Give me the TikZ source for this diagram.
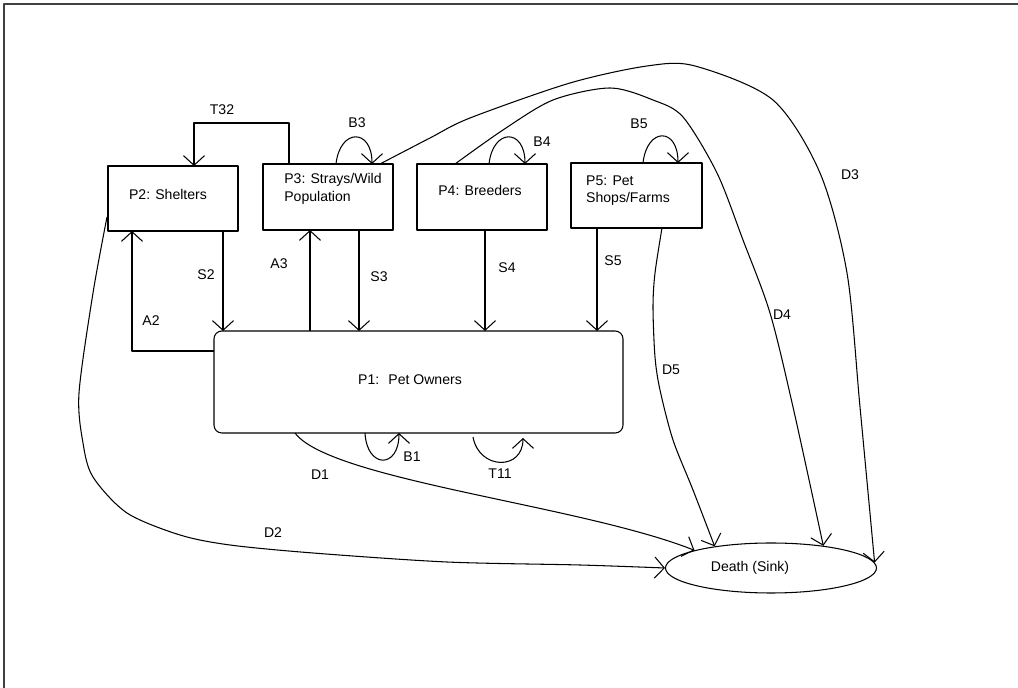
\documentclass[tikz,border=0pt]{standalone}
\usepackage{fontspec}
\setmainfont{Liberation Sans}
\usetikzlibrary{arrows.meta,calc,shapes.geometric}
\definecolor{framecol}{RGB}{64,64,64}
\def\pxu{0.02cm}
\begin{document}
\begin{tikzpicture}[x=0.02cm,y=-0.02cm,
  every node/.style={font=\fontsize{8}{10}\selectfont, text=black},
  box/.style={draw, line width=0.6pt, anchor=north west, inner sep=0pt, outer sep=0pt},
  arr/.style={draw, line width=0.6pt, -{Straight Barb[length=5.5pt,width=12pt]}},
  lbl/.style={inner sep=0pt},
  line join=round]

\useasboundingbox (0,0) rectangle (1018,688);
\draw[framecol, line width=1.2pt] (4,688) -- (4,4) -- (1018,4);

% nodes
\node[box, minimum width=130*\pxu, minimum height=65*\pxu,
  label={[lbl,shift={(-5,-4.5)}]center:{P2: Shelters}}] (P2) at (108,166) {};
\node[box, minimum width=130*\pxu, minimum height=66*\pxu,
  label={[lbl,align=left,shift={(5,-8)}]center:{P3: Strays/Wild\\Population}}] (P3) at (263,164) {};
\node[box, minimum width=130*\pxu, minimum height=66*\pxu,
  label={[lbl,shift={(-2,-7)}]center:{P4: Breeders}}] (P4) at (417,164) {};
\node[box, minimum width=131*\pxu, minimum height=65*\pxu,
  label={[lbl,align=left,shift={(-8.5,-5)}]center:{P5: Pet\\Shops/Farms}}] (P5) at (571,163) {};
\node[box, rounded corners=4.5pt, minimum width=409*\pxu, minimum height=102*\pxu,
  label={[lbl,shift={(-8.5,-2)}]center:{P1:~ Pet Owners}}] (P1) at (214,331) {};
\node[ellipse, draw, line width=0.6pt, inner sep=0pt, minimum width=211*\pxu, minimum height=50*\pxu,
  label={[lbl,shift={(-21,0)}]center:{Death (Sink)}}] (Death) at (771,568) {};

% transfer T32
\draw[arr] ($(P3.north west)+(26,0)$) -- ++(0,-41) -| ($(P2.north west)+(86,0)$);
\node[lbl] (lT32) at (222,110) {T32};

% self loops
\draw[arr] ($(P3.north west)+(73,0)$) .. controls +(4,-36) and +(0,-36) .. ($(P3.north west)+(109,0)$);
\node[lbl] (lB3) at (357,123) {B3};
\draw[arr] ($(P4.north west)+(72,0)$) .. controls +(4,-36) and +(0,-36) .. ($(P4.north west)+(108,0)$);
\node[lbl] (lB4) at (542,142) {B4};
\draw[arr] ($(P5.north west)+(72,0)$) .. controls +(4,-36) and +(0,-36) .. ($(P5.north west)+(107,0)$);
\node[lbl] (lB5) at (639,124) {B5};
\draw[arr] ($(P1.south west)+(151,0)$) .. controls +(2,36) and +(0,36) .. ($(P1.south west)+(185,0)$);
\node[lbl] (lB1) at (412,457) {B1};
\coordinate (T11a) at ($(P1.south west)+(259,4)$);
\coordinate (T11b) at ($(P1.south west)+(309,5)$);
\draw[arr] (T11a) .. controls +(6,33) and +(0,33) .. (T11b);
\node[lbl] (lT11) at (500,474) {T11};

% vertical flows
\coordinate (s2) at ($(P2.south west)+(115,0)$);
\draw[arr] (s2) -- (s2 |- P1.north);
\node[lbl] (lS2) at (206,275) {S2};
\draw[arr] ($(P1.north west)+(0,20)$) -| ($(P2.south west)+(24,0)$);
\node[lbl] (lA2) at (151,321) {A2};
\coordinate (a3) at ($(P1.north west)+(96,0)$);
\draw[arr] (a3) -- (a3 |- P3.south);
\node[lbl] (lA3) at (279,264) {A3};
\coordinate (s3) at ($(P3.south west)+(96,0)$);
\draw[arr] (s3) -- (s3 |- P1.north);
\node[lbl] (lS3) at (379,277) {S3};
\coordinate (s4) at ($(P4.south west)+(68,0)$);
\draw[arr] (s4) -- (s4 |- P1.north);
\node[lbl] (lS4) at (507,268) {S4};
\coordinate (s5) at ($(P5.south west)+(26,0)$);
\draw[arr] (s5) -- (s5 |- P1.north);
\node[lbl] (lS5) at (613,261) {S5};

% deaths
\coordinate (d1s) at ($(P1.south west)+(81,0)$);
\draw[arr] (d1s) .. controls (330,480) and (580,505) .. (Death.167);
\node[lbl] (lD1) at (320,475) {D1};

\coordinate (d2s) at ($(P2.north west)+(-1,51)$);
\draw[arr] plot[smooth, tension=0.5] coordinates {(d2s) (93,293) (79,393) (83,443) (93,477) (127,513) (180,535) (230,545) (313,553) (447,562) (580,565) (Death.west)};
\node[lbl] (lD2) at (273,533) {D2};

\coordinate (d3s) at ($(P3.north east)+(-13,0)$);
\draw[arr] plot[smooth, tension=0.5] coordinates {(d3s) (430,138) (470,118) (570,83) (647,66) (695,66) (773,100) (820,173) (847,273) (860,407) (Death.3)};
\node[lbl] (lD3) at (850,175) {D3};

\coordinate (d4s) at ($(P4.north west)+(38,0)$);
\draw[arr] plot[smooth, tension=0.5] coordinates {(d4s) (503,130) (553,100) (610,88) (653,100) (683,117) (717,173) (743,240) (770,313) (793,407) (Death.23)};
\node[lbl] (lD4) at (782,315) {D4};

\coordinate (d5s) at ($(P5.south west)+(91,0)$);
\draw[arr] plot[smooth, tension=0.5] coordinates {(d5s) (655,273) (653,307) (655,357) (660,390) (673,440) (693,490) (Death.159)};
\node[lbl] (lD5) at (671,370) {D5};
\end{tikzpicture}
\end{document}
